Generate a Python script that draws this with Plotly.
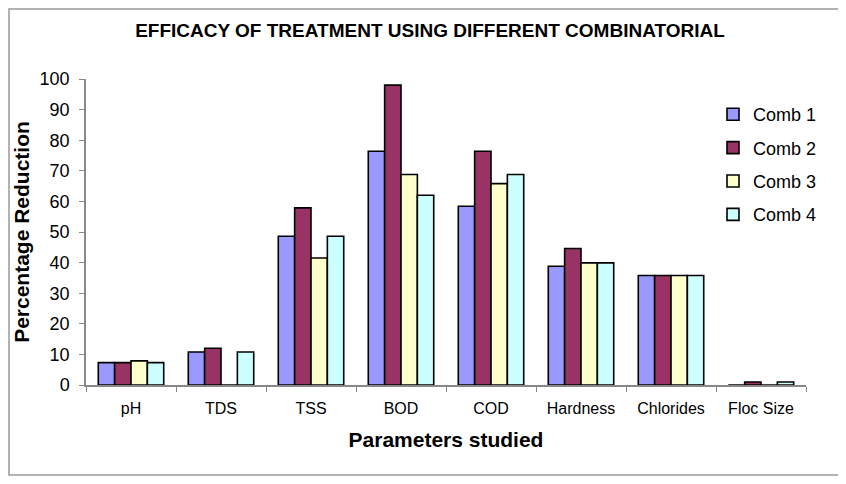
import plotly.graph_objects as go

# ── datos ─────────────────────────────────────────────────────────────────────
parametros = ['pH', 'TDS', 'TSS', 'BOD', 'COD', 'Hardness', 'Chlorides', 'Floc Size']
comb1 = [7.3, 10.8, 48.6, 76.4, 58.4, 38.8, 35.8, 0]
comb2 = [7.3, 12.0, 57.9, 98.0, 76.4, 44.6, 35.8, 1.0]
comb3 = [7.9, 0, 41.5, 68.8, 65.8, 39.9, 35.8, 0]
comb4 = [7.3, 10.8, 48.6, 62.0, 68.8, 39.9, 35.8, 1.0]
series = ['Comb 1', 'Comb 2', 'Comb 3', 'Comb 4']
colores = ['#9999ff', '#993366', '#ffffcc', '#ccffff']
y_ticks = list(range(0, 101, 10))

# la página añade 8 px de margen al body: la figura se dibuja 8 px más pequeña
W, H = 838, 476
L, T, R, B = 78, 71, 40, 99
PW, PH = W - L - R, H - T - B

fig = go.Figure()
for nombre, vals, color in zip(series, [comb1, comb2, comb3, comb4], colores):
    fig.add_trace(go.Bar(
        x=parametros, y=vals, name=nombre,
        marker=dict(color=color, line=dict(color='black', width=1.6)),
        legendgroup=nombre,
    ))

fig.update_layout(
    width=W, height=H,
    barmode='group',
    bargap=0.273, bargroupgap=0,
    font=dict(family='Arial, Liberation Sans, sans-serif', color='black'),
    title=dict(
        text='<b>EFFICACY OF TREATMENT USING DIFFERENT COMBINATORIAL</b>',
        x=(430 - 8) / W, xanchor='center', y=1 - (30 - 8) / H, yanchor='middle',
        font=dict(size=19),
    ),
    plot_bgcolor='white',
    paper_bgcolor='white',
    margin=dict(t=T, b=B, l=L, r=R),
    legend=dict(
        x=(713 - 8 - L) / PW, y=(T + PH - (96 - 8)) / PH,
        xanchor='left', yanchor='top',
        font=dict(size=18),
        traceorder='grouped',
        tracegroupgap=7,
        bgcolor='rgba(0,0,0,0)',
    ),
    xaxis=dict(
        title=dict(text='<b>Parameters studied</b>', font=dict(size=21), standoff=16),
        showline=True, linecolor='#888888', linewidth=1.5,
        ticks='outside', tickson='boundaries', ticklen=5, tickcolor='#888888',
        tickfont=dict(size=16), ticklabelstandoff=8,
        automargin=False,
    ),
    yaxis=dict(
        title=dict(text='<b>Percentage Reduction</b>', font=dict(size=21), standoff=4),
        range=[0, 100],
        tickvals=y_ticks,
        showline=True, linecolor='#888888', linewidth=1.5,
        ticks='outside', ticklen=5, tickcolor='#888888',
        showgrid=False, zeroline=False,
        tickfont=dict(size=18), ticklabelstandoff=6,
        automargin=False,
    ),
    shapes=[dict(
        type='rect', xref='paper', yref='paper',
        x0=(1 - L) / PW, x1=(831 - L) / PW,
        y0=(T + PH - 467) / PH, y1=(T + PH - 1) / PH,
        line=dict(color='#999999', width=1.5),
    )],
)

fig.write_html('out.html')
